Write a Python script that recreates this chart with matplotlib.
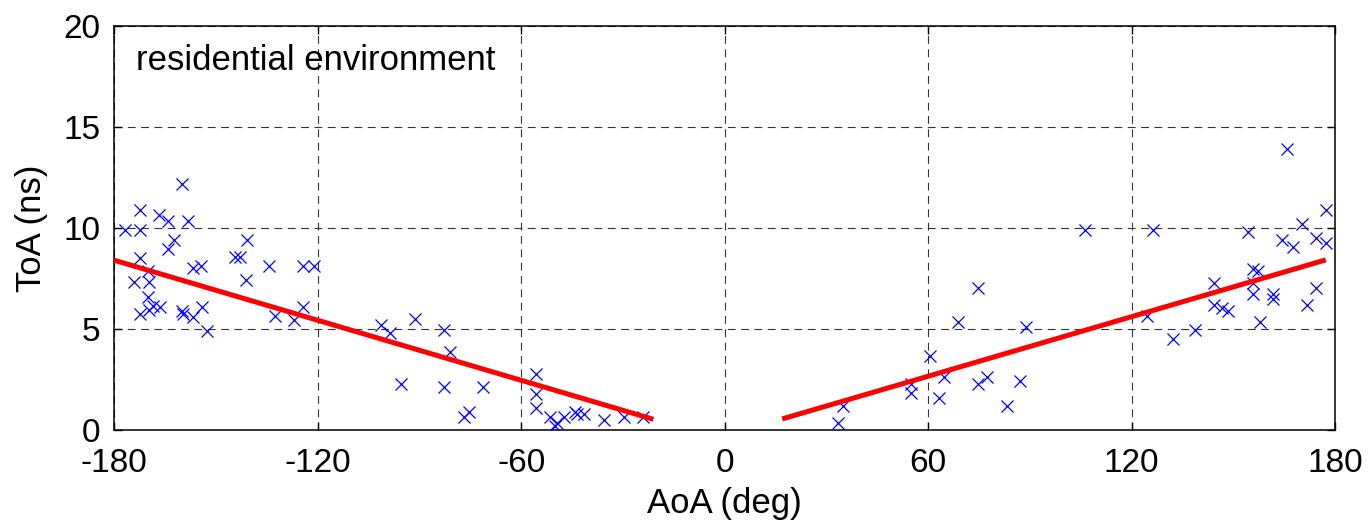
import matplotlib
matplotlib.use("Agg")
import matplotlib.pyplot as plt

plt.rcParams['font.family'] = ['Liberation Sans', 'DejaVu Sans']

aoa = [-160.0, -172.3, -166.7, -164.3, -158.4, -176.7, -172.3, -162.5, -164.2, -140.9,
       -144.3, -142.8, -172.3, -134.4, -156.8, -154.3, -124.4, -121.0, -170.2, -174.3,
       -169.9, -141.1, -170.2, -168.6, -166.5, -172.3, -169.9, -160.0, -159.7, -156.8,
       -154.1, -152.6, -132.6, -127.1, -124.4,
       -101.4, -98.6, -91.2, -82.9, -81.1, -95.4, -82.9, -71.3, -75.5, -77.0,
       -55.7, -55.7, -55.7, -51.4, -49.5, -50.0, -47.3, -44.1, -43.4, -41.4,
       -35.7, -29.8, -24.1,
       33.3, 34.8, 54.9, 54.9, 60.6, 63.3, 64.7, 68.9, 74.8, 74.8, 77.3, 83.2, 87.1, 88.9,
       106.3, 126.2, 124.5, 132.1, 138.7, 144.4, 144.4, 146.6, 148.5, 154.4, 155.9, 157.4,
       155.9, 155.9, 157.9, 161.8, 161.8, 164.3, 165.9, 167.7, 170.2, 171.8, 174.4, 174.4,
       177.5, 177.5]
toa = [12.16, 10.9, 10.65, 10.34, 10.34, 9.91, 9.91, 9.38, 8.95, 9.38,
       8.55, 8.55, 8.52, 8.12, 8.02, 8.12, 8.12, 8.12, 7.86, 7.31,
       7.31, 7.44, 6.6, 6.14, 6.07, 5.74, 5.96, 5.91, 5.74, 5.61,
       6.1, 4.91, 5.66, 5.44, 6.07,
       5.21, 4.78, 5.49, 4.95, 3.84, 2.3, 2.15, 2.15, 0.91, 0.65,
       2.76, 1.77, 1.08, 0.65, 0.36, 0.2, 0.65, 0.91, 0.78, 0.81,
       0.5, 0.65, 0.65,
       0.36, 1.19, 2.3, 1.85, 3.67, 1.6, 2.6, 5.37, 7.03, 2.3, 2.6, 1.19, 2.43, 5.08,
       9.91, 9.91, 5.64, 4.5, 4.95, 7.26, 6.2, 6.04, 5.91, 9.79, 7.97, 7.86,
       7.26, 6.73, 5.37, 6.73, 6.49, 9.38, 13.93, 9.08, 10.21, 6.2, 9.51, 7.03,
       10.9, 9.25]

fit_left_x = [-180, -21]
fit_left_y = [8.4, 0.53]
fit_right_x = [17, 177.3]
fit_right_y = [0.55, 8.42]

xticks = [-180, -120, -60, 0, 60, 120, 180]
yticks = [0, 5, 10, 15, 20]

fig = plt.figure(figsize=(13.72, 5.27), dpi=100)
ax = fig.add_axes([0.0833, 0.184, 0.8897, 0.767])

ax.plot(aoa, toa, linestyle='none', marker='x', color='#0000ff',
        markersize=8.5, markeredgewidth=0.9, zorder=3)
ax.plot(fit_left_x, fit_left_y, color='#ff0000', linewidth=3.6, zorder=4, solid_capstyle='butt')
ax.plot(fit_right_x, fit_right_y, color='#ff0000', linewidth=3.6, zorder=4, solid_capstyle='butt')

ax.set_xlim(-180, 180)
ax.set_ylim(0, 20)
ax.set_xticks(xticks)
ax.set_yticks(yticks)
ax.set_xticklabels([str(v) for v in xticks])
ax.set_yticklabels([str(v) for v in yticks])
ax.tick_params(direction='in', length=6, width=1, labelsize=24, top=True, right=True)
ax.tick_params(axis='x', pad=13)
ax.tick_params(axis='y', pad=10)
ax.grid(True, color='#333333', linestyle=(0, (7, 5)), linewidth=0.8)
ax.set_axisbelow(True)
for s in ax.spines.values():
    s.set_linewidth(1.1)

ax.set_xlabel('AoA (deg)', fontsize=25, labelpad=6)
ax.set_ylabel('ToA (ns)', fontsize=25, labelpad=11)
ax.text(-173.5, 18.3, 'residential environment', fontsize=25, va='center', ha='left')

fig.savefig('out.png', dpi=100)
